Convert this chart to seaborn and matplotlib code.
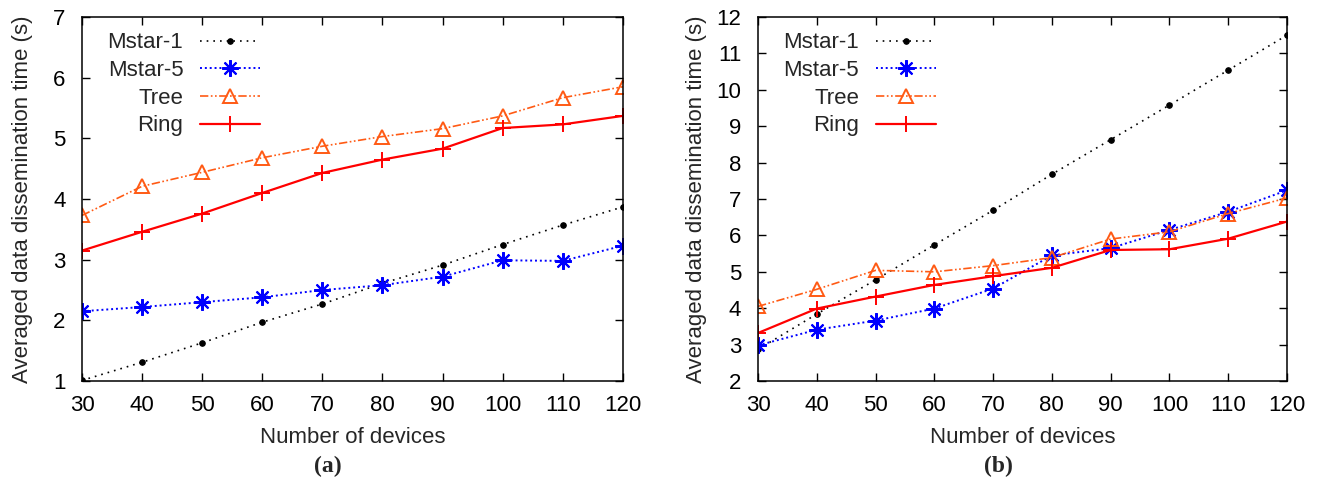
import numpy as np
import pandas as pd
import seaborn as sns
import matplotlib.pyplot as plt

devices = [30, 40, 50, 60, 70, 80, 90, 100, 110, 120]

# (a)
a_mstar1 = [1.01, 1.31, 1.63, 1.97, 2.27, 2.61, 2.91, 3.25, 3.57, 3.87]
a_mstar5 = [2.15, 2.22, 2.30, 2.38, 2.50, 2.58, 2.72, 2.99, 2.98, 3.23]
a_tree = [3.73, 4.21, 4.44, 4.68, 4.87, 5.03, 5.16, 5.37, 5.67, 5.85]
a_ring = [3.15, 3.46, 3.76, 4.10, 4.43, 4.65, 4.83, 5.17, 5.23, 5.37]

# (b)
b_mstar1 = [2.87, 3.84, 4.78, 5.74, 6.69, 7.68, 8.63, 9.58, 10.54, 11.50]
b_mstar5 = [2.98, 3.41, 3.66, 3.99, 4.54, 5.45, 5.65, 6.15, 6.65, 7.24]
b_tree = [4.05, 4.52, 5.04, 5.00, 5.17, 5.39, 5.90, 6.10, 6.60, 7.03]
b_ring = [3.32, 3.99, 4.32, 4.64, 4.88, 5.11, 5.60, 5.62, 5.91, 6.38]

series_names = ["Mstar-1", "Mstar-5", "Tree", "Ring"]

sns.set_style("ticks")
plt.rcParams['font.family'] = ['Liberation Sans', 'DejaVu Sans']

FS = 16

# gnuplot-like styles for each series (edge colour set, seaborn defaults it to white)
styles = {
    "Mstar-1": dict(color="black", linestyle=(0, (1, 3)), marker="o", markersize=4,
                    markeredgecolor="black", lw=1.2),
    "Mstar-5": dict(color="#0000ff", linestyle=(0, (1, 1.5)), marker=(8, 2, 0), markersize=12,
                    markeredgecolor="#0000ff", markeredgewidth=1.5, lw=1.4),
    "Tree": dict(color="#ff5a14", linestyle=(0, (5, 1.5, 1, 1.5, 1, 1.5)), marker="^", markersize=10,
                 markerfacecolor="none", markeredgecolor="#ff5a14", markeredgewidth=1.4, lw=1.2),
    "Ring": dict(color="#ff0000", linestyle="-", marker="+", markersize=12,
                 markeredgecolor="#ff0000", markeredgewidth=1.4, lw=1.6),
}

fig = plt.figure(figsize=(13.19, 4.86), dpi=100)
ax1 = fig.add_axes([0.0622, 0.216, 0.410, 0.749])
ax2 = fig.add_axes([0.5747, 0.216, 0.401, 0.749])

panels = [
    (ax1, [a_mstar1, a_mstar5, a_tree, a_ring], (1, 7), range(1, 8), "(a)", 0.329, 14),
    (ax2, [b_mstar1, b_mstar5, b_tree, b_ring], (2, 12), range(2, 13), "(b)", 0.336, 7),
]

for ax, vals, ylim, yticks, tag, legx, ypad in panels:
    df = pd.DataFrame({"devices": devices})
    for name, v in zip(series_names, vals):
        df[name] = v
    for name in series_names:
        sns.lineplot(data=df, x="devices", y=name, ax=ax, label=name, **styles[name])
    ax.set_xlim(30, 120)
    ax.set_ylim(*ylim)
    ax.set_xticks(devices)
    ax.set_yticks(list(yticks))
    ax.tick_params(direction="in", length=6, width=1, top=True, right=True,
                   labelsize=FS, colors="black")
    ax.tick_params(axis="x", pad=10)
    ax.tick_params(axis="y", pad=12)
    for sp in ax.spines.values():
        sp.set_linewidth(1.1)
        sp.set_color("black")
    ax.set_xlabel("Number of devices", fontsize=FS, labelpad=8)
    ax.set_ylabel("Averaged data dissemination time (s)", fontsize=FS, labelpad=ypad)
    ax.legend(loc="upper right", bbox_to_anchor=(legx, 0.958), frameon=False, markerfirst=False,
              fontsize=FS, handlelength=2.7, handletextpad=0.75, labelspacing=0.3,
              borderpad=0, borderaxespad=0, numpoints=1)
    ax.text(0.455, -0.235, tag, transform=ax.transAxes, ha="center", va="center",
            fontsize=17, fontweight="bold", family="Liberation Serif")

fig.savefig("out.png", dpi=100)
